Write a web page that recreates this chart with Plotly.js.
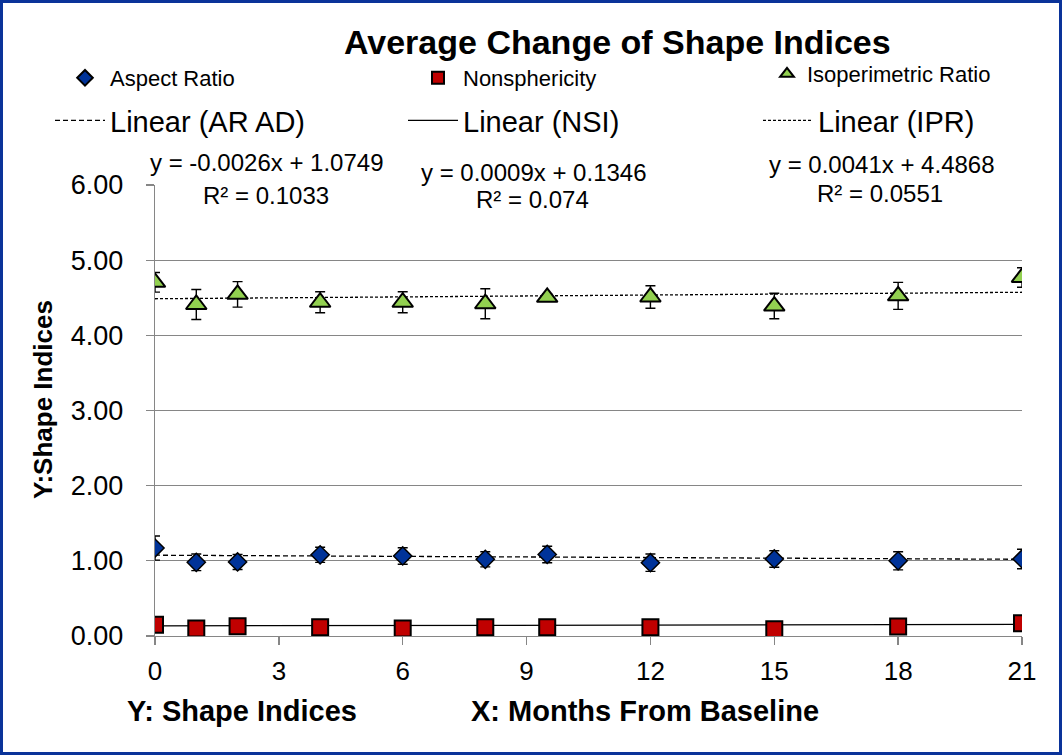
<!DOCTYPE html>
<html>
<head>
<meta charset="utf-8">
<script src="https://cdn.plot.ly/plotly-3.0.1.min.js"></script>
<style>
  html, body { margin: 0; padding: 0; background: #fff; }
  #wrap { position: relative; width: 1062px; height: 755px; }
  #chart { width: 1062px; height: 755px; }
  #frame { position: absolute; left: 0; top: 0; width: 1062px; height: 755px; box-sizing: border-box;
           border: 3px solid #0A3399; pointer-events: none; }
</style>
</head>
<body>
<div id="wrap"><div id="chart"></div><div id="frame"></div></div>
<script>
// ---- data ----
const months = [0, 1, 2, 4, 6, 8, 9.5, 12, 15, 18, 21];

const aspectRatio    = [1.17, 0.98, 0.985, 1.08, 1.065, 1.02, 1.085, 0.975, 1.025, 1.00, 1.025];
const aspectRatioErr = [0.16, 0.11, 0.10, 0.10, 0.11, 0.10, 0.11, 0.115, 0.11, 0.12, 0.13];

const nonsphericity    = [0.15, 0.10, 0.13, 0.115, 0.10, 0.115, 0.115, 0.115, 0.09, 0.125, 0.17];
const nonsphericityErr = [0.02, 0.02, 0.02, 0.02, 0.02, 0.02, 0.02, 0.02, 0.02, 0.02, 0.02];

const isoperimetric    = [4.705, 4.41, 4.545, 4.44, 4.44, 4.42, 4.505, 4.51, 4.39, 4.525, 4.77];
const isoperimetricErr = [0.13, 0.20, 0.17, 0.14, 0.14, 0.20, 0.05, 0.15, 0.17, 0.18, 0.13];

// linear trendlines (coefficients as printed on the chart)
const trendSlopes     = [-0.0026, 0.0009, 0.0041];
const trendIntercepts = [1.0749, 0.1346, 4.4868];
const trendEquations  = ["y = -0.0026x + 1.0749", "y = 0.0009x + 0.1346", "y = 0.0041x + 4.4868"];
const trendR2         = ["R² = 0.1033", "R² = 0.074", "R² = 0.0551"];
const trendSpan       = [0, 21];

const seriesNames = ["Aspect Ratio", "Nonsphericity", "Isoperimetric Ratio"];
const trendNames  = ["Linear (AR AD)", "Linear (NSI)", "Linear (IPR)"];

const xTicks = [0, 3, 6, 9, 12, 15, 18, 21];
const yTicks = [0, 1, 2, 3, 4, 5, 6];

// ---- layout helpers (pixel -> paper) ----
const L = 155, R = 1022, T = 185, B = 636;
const px = x => (x - L) / (R - L);
const py = y => (B - y) / (B - T);

const FONT = "Liberation Sans, Arial, sans-serif";

function trendTrace(i, dash, legendId) {
  return {
    x: trendSpan,
    y: trendSpan.map(v => trendSlopes[i] * v + trendIntercepts[i]),
    mode: "lines",
    name: trendNames[i],
    legend: legendId,
    line: { color: "#000000", width: 1.3, dash: dash },
    hoverinfo: "skip"
  };
}

const traces = [
  trendTrace(0, "5px,3px", "legend4"),
  trendTrace(1, "solid", "legend5"),
  trendTrace(2, "3px,2px", "legend6"),
  {
    x: months, y: aspectRatio, mode: "markers", name: seriesNames[0], legend: "legend",
    marker: { symbol: "diamond", size: 14, color: "#003399", line: { color: "#000000", width: 1.5 } },
    error_y: { type: "data", array: aspectRatioErr, visible: true, color: "#000000", thickness: 1.4, width: 5 }
  },
  {
    x: months, y: nonsphericity, mode: "markers", name: seriesNames[1], legend: "legend2",
    marker: { symbol: "square", size: 16, color: "#C00000", line: { color: "#000000", width: 2 } },
    error_y: { type: "data", array: nonsphericityErr, visible: true, color: "#000000", thickness: 1.4, width: 5 }
  },
  {
    x: months, y: isoperimetric, mode: "markers", name: seriesNames[2], legend: "legend3",
    marker: { symbol: "triangle-up", size: 18, color: "#92D050", line: { color: "#000000", width: 2 } },
    error_y: { type: "data", array: isoperimetricErr, visible: true, color: "#000000", thickness: 1.4, width: 5 }
  }
];

const eqX = [267, 534, 882];
const eqY = [163, 172, 165];
const r2X = [266, 532, 880];
const r2Y = [195, 200, 194];

const annotations = [];
for (let i = 0; i < 3; i++) {
  annotations.push({ text: trendEquations[i], x: px(eqX[i]), y: py(eqY[i]), xref: "paper", yref: "paper",
    showarrow: false, xanchor: "center", yanchor: "middle", font: { family: FONT, size: 24, color: "#000" } });
  annotations.push({ text: trendR2[i], x: px(r2X[i]), y: py(r2Y[i]), xref: "paper", yref: "paper",
    showarrow: false, xanchor: "center", yanchor: "middle", font: { family: FONT, size: 24, color: "#000" } });
}
annotations.push({ text: "<b>Average Change of Shape Indices</b>", x: px(617), y: py(42), xref: "paper", yref: "paper",
  showarrow: false, xanchor: "center", yanchor: "middle", font: { family: FONT, size: 34, color: "#000" } });
annotations.push({ text: "<b>Y:Shape Indices</b>", x: px(43), y: py(400), xref: "paper", yref: "paper", textangle: -90,
  showarrow: false, xanchor: "center", yanchor: "middle", font: { family: FONT, size: 26, color: "#000" } });
annotations.push({ text: "<b>Y: Shape Indices</b>", x: px(242), y: py(711), xref: "paper", yref: "paper",
  showarrow: false, xanchor: "center", yanchor: "middle", font: { family: FONT, size: 29, color: "#000" } });
annotations.push({ text: "<b>X: Months From Baseline</b>", x: px(645), y: py(711), xref: "paper", yref: "paper",
  showarrow: false, xanchor: "center", yanchor: "middle", font: { family: FONT, size: 29, color: "#000" } });

function legendBox(leftPx, topPx, size, itemW, sizing) {
  return {
    orientation: "h", x: px(leftPx), xanchor: "left", y: py(topPx), yanchor: "top",
    bgcolor: "rgba(0,0,0,0)", itemwidth: itemW, itemsizing: sizing,
    font: { family: FONT, size: size, color: "#000" }
  };
}

const layout = {
  width: 1062, height: 755,
  margin: { l: L, r: 1062 - R, t: T, b: 755 - B, pad: 0 },
  paper_bgcolor: "#ffffff", plot_bgcolor: "#ffffff",
  font: { family: FONT, color: "#000" },
  showlegend: true,
  xaxis: {
    range: [0, 21], tickvals: xTicks, ticktext: xTicks.map(String),
    ticks: "outside", ticklen: 8, tickcolor: "#868686", tickwidth: 1.3,
    showline: true, linecolor: "#868686", linewidth: 1.3, showgrid: false, zeroline: false,
    tickfont: { family: FONT, size: 26, color: "#000" }, ticklabelstandoff: 3, fixedrange: true
  },
  yaxis: {
    range: [0, 6], tickvals: yTicks, ticktext: yTicks.map(v => v.toFixed(2)),
    ticks: "outside", ticklen: 8, tickcolor: "#868686", tickwidth: 1.3,
    showline: true, linecolor: "#868686", linewidth: 1.3,
    showgrid: true, gridcolor: "#868686", gridwidth: 1.3, zeroline: false,
    tickfont: { family: FONT, size: 27, color: "#000" }, ticklabelstandoff: 17, fixedrange: true
  },
  legend:  legendBox(60, 57, 22, 40, "constant"),
  legend2: legendBox(413, 57, 22, 40, "constant"),
  legend3: legendBox(767, 53, 22, 30, "constant"),
  legend4: legendBox(50, 95, 29, 50, "trace"),
  legend5: legendBox(403, 95, 29, 50, "trace"),
  legend6: legendBox(758, 95, 29, 50, "trace"),
  annotations: annotations
};

Plotly.newPlot("chart", traces, layout, { displayModeBar: false, staticPlot: true });
</script>
</body>
</html>
